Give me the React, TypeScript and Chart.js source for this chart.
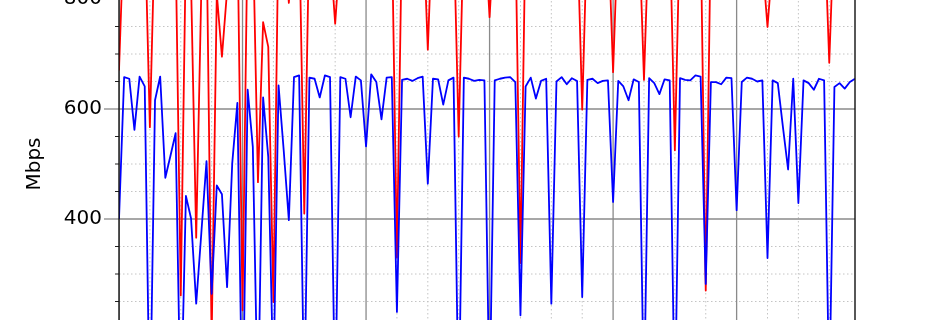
import React, { useEffect, useRef } from "react";
import { Chart, registerables } from "chart.js";

Chart.register(...registerables);

// sample index 0..143
const blueValues = [
  400, 658, 655, 562, 659, 641, 20, 616, 659, 475, 515, 556, 30, 442, 401, 246, 375, 505, 264, 461,
  445, 276, 501, 611, 10, 635, 531, 40, 621, 513, 100, 643, 525, 398, 658, 661, 60, 657, 655, 621,
  661, 658, 50, 658, 655, 585, 659, 652, 532, 663, 649, 581, 657, 658, 231, 653, 655, 651, 656, 659,
  464, 655, 654, 608, 652, 657, 40, 657, 655, 651, 653, 652, 60, 652, 655, 657, 658, 649, 225, 641,
  657, 619, 651, 655, 246, 650, 658, 645, 656, 651, 258, 653, 655, 647, 651, 652, 431, 651, 641, 616,
  654, 649, 60, 656, 647, 627, 654, 652, 40, 656, 653, 652, 661, 659, 282, 649, 649, 645, 657, 656,
  416, 649, 657, 655, 650, 652, 329, 652, 647, 567, 490, 655, 429, 652, 647, 635, 655, 652, 70, 640,
  647, 637, 649, 655,
];

const redValues = [
  670, 940, 940, 940, 940, 945, 567, 940, 940, 940, 935, 900, 261, 900, 830, 366, 820, 930, 180, 810,
  695, 815, 940, 940, 234, 940, 930, 467, 758, 713, 249, 940, 930, 793, 930, 940, 410, 940, 940, 940,
  935, 890, 755, 890, 940, 940, 940, 940, 940, 940, 940, 940, 940, 940, 330, 940, 940, 940, 940, 960,
  708, 960, 940, 940, 940, 940, 550, 940, 940, 940, 940, 930, 767, 930, 940, 940, 940, 940, 320, 940,
  940, 940, 940, 940, 940, 940, 940, 940, 940, 940, 599, 940, 940, 940, 940, 940, 667, 940, 940, 940,
  940, 940, 653, 940, 940, 940, 940, 940, 525, 940, 940, 940, 940, 940, 270, 940, 940, 940, 940, 940,
  940, 940, 940, 940, 940, 870, 749, 870, 940, 940, 940, 940, 940, 940, 940, 940, 940, 950, 684, 950,
  940, 940, 940, 940,
];

const X_MIN = 0;
const X_MAX = 143;
const X_MINOR_STEP = 6;
const X_MAJOR_STEP = 24;
const Y_MIN = 0;
const Y_MAX = 1000;
const Y_MINOR_STEP = 50;
const Y_MAJOR_STEP = 200;
const Y_TITLE = "Mbps";

const FONT = "'DejaVu Sans', sans-serif";

const mplPlugin = {
  id: "mplGrid",
  beforeDatasetsDraw(chart: any) {
    const { ctx, chartArea: a, scales } = chart;
    const xs = scales.x;
    const ys = scales.y;
    ctx.save();
    ctx.beginPath();
    ctx.rect(a.left, a.top, a.right - a.left, a.bottom - a.top);
    ctx.clip();
    ctx.strokeStyle = "#c4c4c4";
    ctx.lineWidth = 1;
    ctx.setLineDash([1.5, 2.5]);
    for (let v = X_MIN; v <= X_MAX; v += X_MINOR_STEP) {
      if (v % X_MAJOR_STEP === 0) continue;
      const px = xs.getPixelForValue(v);
      ctx.beginPath();
      ctx.moveTo(px, a.top);
      ctx.lineTo(px, a.bottom);
      ctx.stroke();
    }
    for (let v = Y_MIN; v <= Y_MAX; v += Y_MINOR_STEP) {
      if (v % Y_MAJOR_STEP === 0) continue;
      const py = ys.getPixelForValue(v);
      ctx.beginPath();
      ctx.moveTo(a.left, py);
      ctx.lineTo(a.right, py);
      ctx.stroke();
    }
    ctx.setLineDash([]);
    ctx.strokeStyle = "#8a8a8a";
    ctx.lineWidth = 1.3;
    for (let v = X_MIN; v <= X_MAX; v += X_MAJOR_STEP) {
      const px = xs.getPixelForValue(v);
      ctx.beginPath();
      ctx.moveTo(px, a.top);
      ctx.lineTo(px, a.bottom);
      ctx.stroke();
    }
    for (let v = Y_MIN; v <= Y_MAX; v += Y_MAJOR_STEP) {
      const py = ys.getPixelForValue(v);
      ctx.beginPath();
      ctx.moveTo(a.left, py);
      ctx.lineTo(a.right, py);
      ctx.stroke();
    }
    ctx.restore();
  },
  afterDatasetsDraw(chart: any) {
    const { ctx, chartArea: a, scales } = chart;
    const ys = scales.y;
    ctx.save();
    ctx.strokeStyle = "#8a8a8a";
    ctx.lineWidth = 1.3;
    for (let v = Y_MIN; v <= Y_MAX; v += Y_MAJOR_STEP) {
      const py = ys.getPixelForValue(v);
      ctx.beginPath();
      ctx.moveTo(a.left - 15, py);
      ctx.lineTo(a.left, py);
      ctx.stroke();
    }
    ctx.strokeStyle = "#222";
    ctx.lineWidth = 1;
    for (let v = Y_MIN; v <= Y_MAX; v += Y_MINOR_STEP) {
      if (v % Y_MAJOR_STEP === 0) continue;
      const py = ys.getPixelForValue(v);
      ctx.beginPath();
      ctx.moveTo(a.left - 4, py);
      ctx.lineTo(a.left, py);
      ctx.stroke();
    }
    ctx.strokeStyle = "#111";
    ctx.lineWidth = 1.4;
    ctx.beginPath();
    ctx.rect(a.left, a.top, a.right - a.left, a.bottom - a.top);
    ctx.stroke();
    ctx.restore();
  },
};

const PAD_TOP = 40;
const PAD_BOTTOM = 40;
const AREA_H = 550;
const CANVAS_H = PAD_TOP + AREA_H + PAD_BOTTOM;
const CANVAS_OFFSET = -151.3;

export default function App() {
  const ref = useRef<HTMLCanvasElement | null>(null);

  useEffect(() => {
    if (!ref.current) return;
    const blue = blueValues.map((v, i) => ({ x: i, y: v }));
    const red = redValues.map((v, i) => ({ x: i, y: v }));
    const chart = new Chart(ref.current, {
      type: "line",
      data: {
        datasets: [
          {
            label: "blue",
            data: blue,
            borderColor: "rgb(0,0,255)",
            borderWidth: 1.8,
            pointRadius: 0,
            tension: 0,
            fill: false,
            borderJoinStyle: "round",
          },
          {
            label: "red",
            data: red,
            borderColor: "rgb(255,0,0)",
            borderWidth: 1.8,
            pointRadius: 0,
            tension: 0,
            fill: false,
            borderJoinStyle: "round",
          },
        ],
      },
      options: {
        animation: false,
        responsive: false,
        layout: { padding: { left: 0, right: 95, top: PAD_TOP, bottom: PAD_BOTTOM } },
        plugins: { legend: { display: false }, tooltip: { enabled: false } },
        scales: {
          x: {
            type: "linear",
            min: X_MIN,
            max: X_MAX,
            ticks: { display: false },
            grid: { display: false, drawTicks: false },
            border: { display: false },
            afterFit: (s: any) => {
              s.height = 0;
            },
          },
          y: {
            type: "linear",
            min: Y_MIN,
            max: Y_MAX,
            ticks: {
              stepSize: Y_MAJOR_STEP,
              padding: 17,
              color: "#000",
              font: { family: FONT, size: 20 },
            },
            grid: { display: false, drawTicks: false },
            border: { display: false },
            title: {
              display: true,
              text: Y_TITLE,
              color: "#000",
              font: { family: FONT, size: 20 },
              padding: { top: 23, bottom: 0 },
            },
            afterFit: (s: any) => {
              s.width = 119;
            },
          },
        },
      },
      plugins: [mplPlugin],
    } as any);
    return () => chart.destroy();
  }, []);

  return (
    <div
      style={{
        position: "fixed",
        left: 0,
        top: 0,
        width: 950,
        height: 320,
        overflow: "hidden",
        background: "#fff",
      }}
    >
      <canvas
        ref={ref}
        width={950}
        height={CANVAS_H}
        style={{
          position: "absolute",
          left: 0,
          top: CANVAS_OFFSET,
          width: 950,
          height: CANVAS_H,
          display: "block",
        }}
      />
    </div>
  );
}
